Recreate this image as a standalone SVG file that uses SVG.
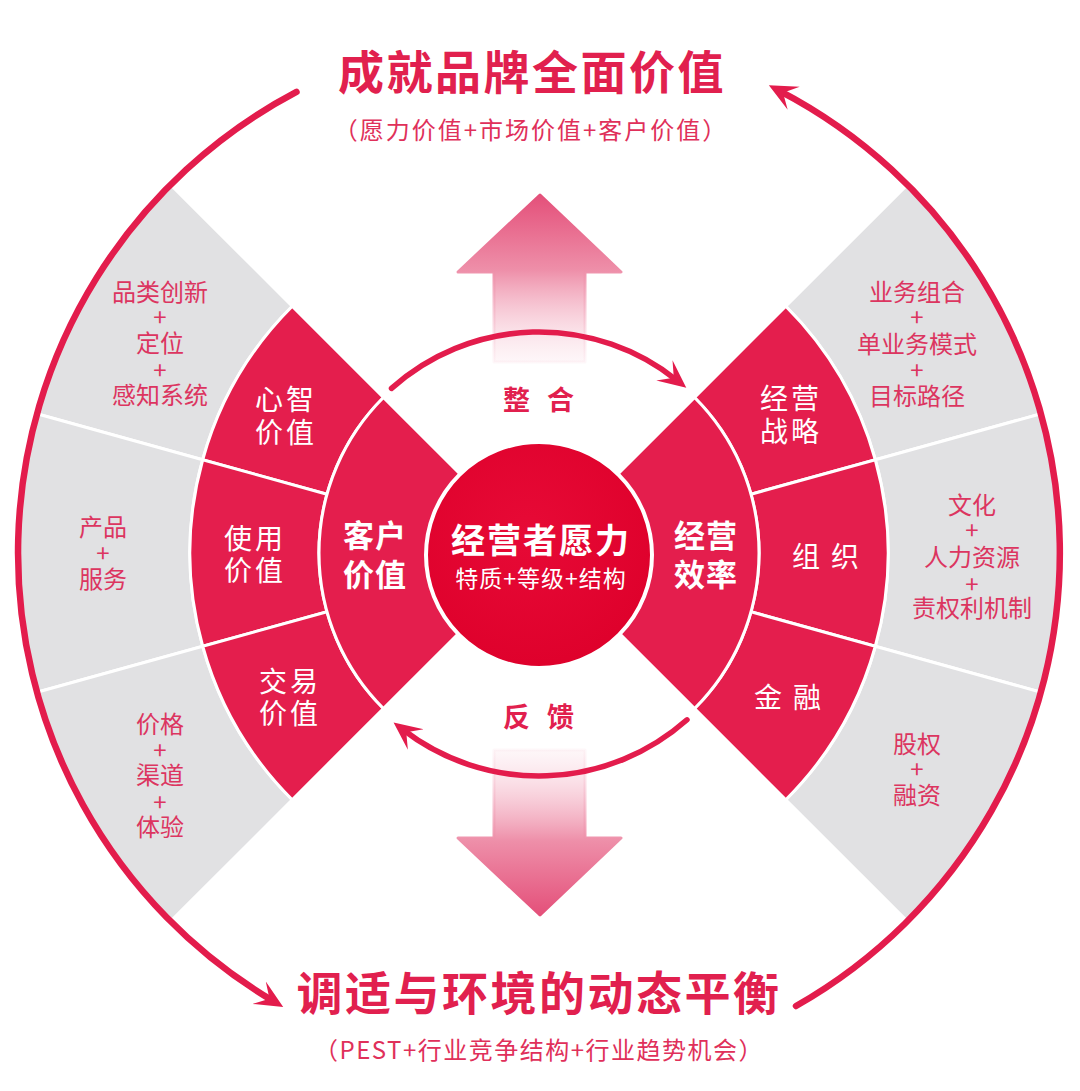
<svg xmlns="http://www.w3.org/2000/svg" width="1080" height="1091" viewBox="0 0 1080 1091">
<style>
.cn{font-family:"Noto Sans CJK SC","Noto Sans",sans-serif;}
.title{font-size:46px;font-weight:700;fill:#e1204e;letter-spacing:2.5px;}
.sub{font-size:24px;fill:#e0305a;}
.grey{fill:#e1e1e3;stroke:#ffffff;stroke-width:3;}
.red{fill:#e41e4d;stroke:#ffffff;stroke-width:3;}
.gt{font-size:24px;fill:#dc3560;text-anchor:middle;dominant-baseline:central;}
.rt{font-size:28px;fill:#ffffff;text-anchor:middle;dominant-baseline:central;letter-spacing:3px;}
.bt{font-size:31px;font-weight:700;fill:#ffffff;text-anchor:middle;dominant-baseline:central;letter-spacing:1px;}
.lab{font-size:27px;font-weight:700;fill:#e1204e;text-anchor:middle;dominant-baseline:central;letter-spacing:17px;}
.big{fill:none;stroke:#e31c4c;stroke-width:6.5;stroke-linecap:round;}
.small{fill:none;stroke:#e31c4c;stroke-width:5.5;stroke-linecap:round;}
</style>
<defs>
<marker id="ah" viewBox="0 -14 30 28" markerWidth="30" markerHeight="28" refX="16" refY="0" orient="auto" markerUnits="userSpaceOnUse">
<path d="M28,0 L0,-13 L12,0 L0,13 Z" fill="#e31c4c"/>
</marker>
<linearGradient id="gUp" x1="0" y1="195" x2="0" y2="362" gradientUnits="userSpaceOnUse">
<stop offset="0" stop-color="#e4507a"/>
<stop offset="0.45" stop-color="#ee8fa9"/>
<stop offset="1" stop-color="#fbe3ea" stop-opacity="0.3"/>
</linearGradient>
<linearGradient id="gDown" x1="0" y1="915" x2="0" y2="750" gradientUnits="userSpaceOnUse">
<stop offset="0" stop-color="#e4507a"/>
<stop offset="0.45" stop-color="#ee8fa9"/>
<stop offset="1" stop-color="#fbe3ea" stop-opacity="0.3"/>
</linearGradient>
<radialGradient id="gCore" cx="0.45" cy="0.4" r="0.65">
<stop offset="0" stop-color="#e70a36"/>
<stop offset="1" stop-color="#de002b"/>
</radialGradient>
</defs>

<rect width="1080" height="1091" fill="#ffffff"/>

<!-- pink vertical arrows -->
<g id="arrow-up">
<path d="M540,195 L621,272 L585,272 L585,362 L494,362 L494,272 L458,272 Z" fill="url(#gUp)" stroke="url(#gUp)" stroke-width="3" stroke-linejoin="round"/>
</g>
<g id="arrow-down">
<path d="M540,915 L621,838 L585,838 L585,750 L494,750 L494,838 L458,838 Z" fill="url(#gDown)" stroke="url(#gDown)" stroke-width="3" stroke-linejoin="round"/>
</g>

<!-- grey outer regions -->
<g id="g-mind">
<path class="grey" d="M36.95,413.77 A521,521 0 0 1 170.60,184.60 L292.22,306.22 A349,349 0 0 0 202.69,459.73 Z"/>
<text class="cn gt" x="160" y="290">品类创新</text>
<text class="cn gt" x="160" y="315">+</text>
<text class="cn gt" x="160" y="341">定位</text>
<text class="cn gt" x="160" y="368">+</text>
<text class="cn gt" x="160" y="393">感知系统</text>
</g>
<g id="g-use">
<path class="grey" d="M36.95,692.23 A521,521 0 0 1 36.95,413.77 L202.69,459.73 A349,349 0 0 0 202.69,646.27 Z"/>
<text class="cn gt" x="103" y="525">产品</text>
<text class="cn gt" x="103" y="551">+</text>
<text class="cn gt" x="103" y="577">服务</text>
</g>
<g id="g-trade">
<path class="grey" d="M170.60,921.40 A521,521 0 0 1 36.95,692.23 L202.69,646.27 A349,349 0 0 0 292.22,799.78 Z"/>
<text class="cn gt" x="160" y="722">价格</text>
<text class="cn gt" x="160" y="748">+</text>
<text class="cn gt" x="160" y="773">渠道</text>
<text class="cn gt" x="160" y="800">+</text>
<text class="cn gt" x="160" y="825">体验</text>
</g>
<g id="g-strategy">
<path class="grey" d="M907.40,184.60 A521,521 0 0 1 1041.05,413.77 L875.31,459.73 A349,349 0 0 0 785.78,306.22 Z"/>
<text class="cn gt" x="917" y="290">业务组合</text>
<text class="cn gt" x="917" y="315">+</text>
<text class="cn gt" x="917" y="342">单业务模式</text>
<text class="cn gt" x="917" y="368">+</text>
<text class="cn gt" x="917" y="394">目标路径</text>
</g>
<g id="g-org">
<path class="grey" d="M1041.05,413.77 A521,521 0 0 1 1041.05,692.23 L875.31,646.27 A349,349 0 0 0 875.31,459.73 Z"/>
<text class="cn gt" x="972" y="503">文化</text>
<text class="cn gt" x="972" y="528">+</text>
<text class="cn gt" x="972" y="555">人力资源</text>
<text class="cn gt" x="972" y="582">+</text>
<text class="cn gt" x="972" y="606">责权利机制</text>
</g>
<g id="g-finance">
<path class="grey" d="M1041.05,692.23 A521,521 0 0 1 907.40,921.40 L785.78,799.78 A349,349 0 0 0 875.31,646.27 Z"/>
<text class="cn gt" x="917" y="742">股权</text>
<text class="cn gt" x="917" y="767">+</text>
<text class="cn gt" x="917" y="793">融资</text>
</g>

<!-- red outer ring -->
<g id="mind-value">
<path class="red" d="M202.69,459.73 A349,349 0 0 1 292.22,306.22 L383.44,397.44 A220,220 0 0 0 327.0,494.21 Z"/>
<text class="cn rt" x="286" y="398">心智</text>
<text class="cn rt" x="286" y="431">价值</text>
</g>
<g id="use-value">
<path class="red" d="M202.69,646.27 A349,349 0 0 1 202.69,459.73 L327.0,494.21 A220,220 0 0 0 327.0,611.79 Z"/>
<text class="cn rt" x="255" y="537">使用</text>
<text class="cn rt" x="255" y="569">价值</text>
</g>
<g id="trade-value">
<path class="red" d="M292.22,799.78 A349,349 0 0 1 202.69,646.27 L327.0,611.79 A220,220 0 0 0 383.44,708.56 Z"/>
<text class="cn rt" x="290" y="680">交易</text>
<text class="cn rt" x="290" y="712">价值</text>
</g>
<g id="strategy">
<path class="red" d="M785.78,306.22 A349,349 0 0 1 875.31,459.73 L751.0,494.21 A220,220 0 0 0 694.56,397.44 Z"/>
<text class="cn rt" x="791" y="397">经营</text>
<text class="cn rt" x="791" y="430">战略</text>
</g>
<g id="organization">
<path class="red" d="M875.31,459.73 A349,349 0 0 1 875.31,646.27 L751.0,611.79 A220,220 0 0 0 751.0,494.21 Z"/>
<text class="cn rt" x="831" y="555" style="letter-spacing:11px">组织</text>
</g>
<g id="finance">
<path class="red" d="M875.31,646.27 A349,349 0 0 1 785.78,799.78 L694.56,708.56 A220,220 0 0 0 751.0,611.79 Z"/>
<text class="cn rt" x="793" y="696" style="letter-spacing:11px">金融</text>
</g>

<!-- inner ring -->
<g id="customer-value">
<path class="red" d="M383.44,708.56 A220,220 0 0 1 383.44,397.44 L468.29,482.29 A100,100 0 0 0 468.29,623.71 Z"/>
<text class="cn bt" x="375" y="533">客户</text>
<text class="cn bt" x="375" y="572">价值</text>
</g>
<g id="efficiency">
<path class="red" d="M694.56,397.44 A220,220 0 0 1 694.56,708.56 L609.71,623.71 A100,100 0 0 0 609.71,482.29 Z"/>
<text class="cn bt" x="706" y="533">经营</text>
<text class="cn bt" x="706" y="572">效率</text>
</g>

<!-- core -->
<g id="core">
<circle cx="539" cy="555" r="113" fill="url(#gCore)" stroke="#ffffff" stroke-width="4"/>
<text class="cn" x="541" y="538" text-anchor="middle" dominant-baseline="central" font-size="34" font-weight="700" fill="#ffffff" letter-spacing="2">经营者愿力</text>
<text class="cn" x="541" y="577" text-anchor="middle" dominant-baseline="central" font-size="23" fill="#ffffff" letter-spacing="1">特质+等级+结构</text>
</g>

<!-- connectors -->
<g id="connectors">
<path class="big" d="M296.5,91.9 A521,521 0 0 0 272.9,1000.9" marker-end="url(#ah)"/>
<path class="big" d="M796,1006 A521,521 0 0 0 779.5,90.8" marker-end="url(#ah)"/>
<path class="small" d="M391.5,388.4 A221,221 0 0 1 676.9,380.3" marker-end="url(#ah)"/>
<path class="small" d="M687,719.8 A223,223 0 0 1 403.1,729.8" marker-end="url(#ah)"/>
</g>

<g id="label-integrate">
<text class="cn lab" x="547" y="398">整合</text>
</g>
<g id="label-feedback">
<text class="cn lab" x="547" y="715">反馈</text>
</g>

<!-- titles -->
<g id="title-top">
<text class="cn title" x="532" y="69" text-anchor="middle" dominant-baseline="central">成就品牌全面价值</text>
<text class="cn sub" x="531" y="128" text-anchor="middle" dominant-baseline="central" letter-spacing="2">（愿力价值+市场价值+客户价值）</text>
</g>
<g id="title-bottom">
<text class="cn title" x="539" y="990" text-anchor="middle" dominant-baseline="central">调适与环境的动态平衡</text>
<text class="cn sub" x="539" y="1048" text-anchor="middle" dominant-baseline="central" letter-spacing="1.5">（PEST+行业竞争结构+行业趋势机会）</text>
</g>
</svg>
